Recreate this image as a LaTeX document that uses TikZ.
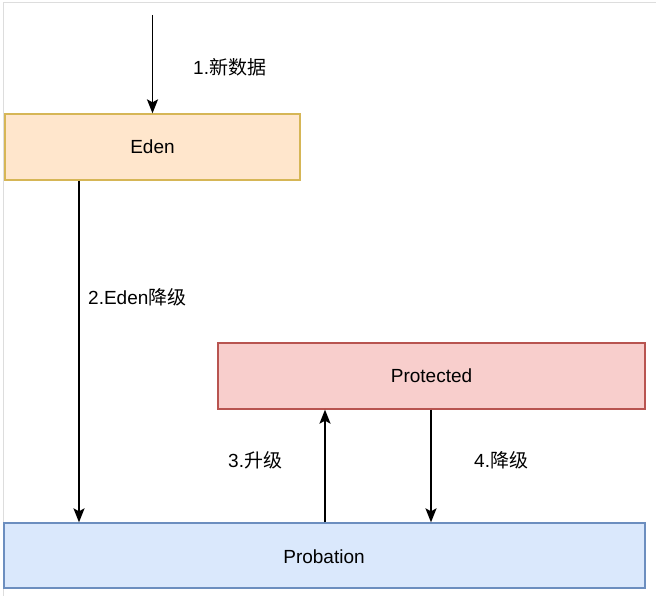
\documentclass[tikz,border=0pt]{standalone}
\usepackage{fontspec}
\setmainfont{Liberation Sans}
\newfontfamily\cjk{Noto Sans CJK SC}
\usetikzlibrary{arrows.meta}
\definecolor{edenfill}{HTML}{FFE6CC}
\definecolor{edendraw}{HTML}{D6B656}
\definecolor{protfill}{HTML}{F8CECC}
\definecolor{protdraw}{HTML}{B85450}
\definecolor{probfill}{HTML}{DAE8FC}
\definecolor{probdraw}{HTML}{6C8EBF}
\definecolor{framegray}{HTML}{DDDDDD}
\begin{document}
\begin{tikzpicture}[x=1pt,y=-1pt,
  box/.style={rectangle,line width=1.3pt,inner sep=0pt,font=\fontsize{19}{22}\selectfont},
  lbl/.style={font=\fontsize{19}{22}\selectfont,inner sep=0pt,anchor=west},
  arr/.style={line width=1.8pt,-{Stealth[length=14pt,width=11pt,inset=3pt]}}]
\useasboundingbox (0,0) rectangle (656,596);
\fill[white] (0,0) rectangle (656,596);
\draw[framegray,line width=1pt] (3,596) -- (3,3) -- (656,3);
\node[box,fill=edenfill,draw=edendraw,minimum width=295pt,minimum height=66pt] (Eden) at (152.5,147) {Eden};
\node[box,fill=protfill,draw=protdraw,minimum width=427pt,minimum height=66pt] (Prot) at (431.5,376) {Protected};
\node[box,fill=probfill,draw=probdraw,minimum width=641pt,minimum height=65pt] (Prob) at (324.5,555.5) {};
\node[font=\fontsize{19}{22}\selectfont,inner sep=0pt] (ProbT) at (324,557) {Probation};
\coordinate (start) at (152.5,15);
\coordinate (x2) at (79,0);
\coordinate (x3) at (325,0);
\coordinate (x4) at (431,0);
\draw[arr] (start) -- (Eden.north);
\draw[arr] (Eden.south -| x2) -- (Prob.north -| x2);
\draw[arr] (Prob.north -| x3) -- (Prot.south -| x3);
\draw[arr] (Prot.south -| x4) -- (Prob.north -| x4);
\node[lbl] (l1) at (193,67) {1.{\cjk 新数据}};
\node[lbl] (l2) at (88,297) {2.Eden{\cjk 降级}};
\node[lbl] (l3) at (228,460) {3.{\cjk 升级}};
\node[lbl] (l4) at (474,460) {4.{\cjk 降级}};
\end{tikzpicture}
\end{document}
